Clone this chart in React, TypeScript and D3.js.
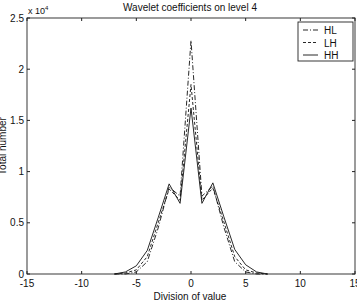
import React from 'react';
import * as d3 from 'd3';

const xs = [-7, -6, -5, -4, -3, -2, -1, 0, 1, 2, 3, 4, 5, 6, 7];
const hl = [0, 0, 0.02, 0.12, 0.45, 0.85, 0.76, 2.28, 0.76, 0.86, 0.46, 0.12, 0.02, 0, 0];
const lh = [0, 0.01, 0.04, 0.17, 0.5, 0.83, 0.72, 1.85, 0.72, 0.84, 0.51, 0.17, 0.04, 0.01, 0];
const hh = [0, 0.02, 0.08, 0.23, 0.55, 0.88, 0.69, 1.62, 0.69, 0.89, 0.56, 0.24, 0.09, 0.02, 0];
const xTicks = [-15, -10, -5, 0, 5, 10, 15];
const yTicks = [0, 0.5, 1, 1.5, 2, 2.5];

const series = [
  { name: 'HL', values: hl, dash: '5,2,1,2' },
  { name: 'LH', values: lh, dash: '3,2' },
  { name: 'HH', values: hh, dash: '' },
];

const W = 357;
const H = 304;
const m = { left: 27, right: 355, top: 18, bottom: 274 };

export default function App() {
  const x = d3.scaleLinear().domain([-15, 15]).range([m.left, m.right]);
  const y = d3.scaleLinear().domain([0, 2.5]).range([m.bottom, m.top]);
  const line = d3.line<number>().x((_, i) => x(xs[i])).y(d => y(d));
  const font = 'Liberation Sans, Arial, sans-serif';

  return (
    <svg width={W} height={H} style={{ position: 'absolute', left: 0, top: 0, background: '#fff' }}
      fontFamily={font}>
      <rect x={0} y={0} width={W} height={H} fill="#fff" />
      {series.map(s => (
        <path key={s.name} d={line(s.values) || ''} fill="none" stroke="#111"
          strokeWidth={0.9} strokeDasharray={s.dash || undefined} />
      ))}
      <rect x={m.left} y={m.top} width={m.right - m.left} height={m.bottom - m.top}
        fill="none" stroke="#222" strokeWidth={0.9} />
      {xTicks.map(t => (
        <g key={'x' + t}>
          <line x1={x(t)} x2={x(t)} y1={m.bottom} y2={m.bottom - 3} stroke="#222" />
          <line x1={x(t)} x2={x(t)} y1={m.top} y2={m.top + 3} stroke="#222" />
          <text x={x(t)} y={m.bottom + 13} fontSize={10} textAnchor="middle" fill="#111">{t}</text>
        </g>
      ))}
      {yTicks.map(t => (
        <g key={'y' + t}>
          <line x1={m.left} x2={m.left + 3} y1={y(t)} y2={y(t)} stroke="#222" />
          <line x1={m.right} x2={m.right - 3} y1={y(t)} y2={y(t)} stroke="#222" />
          <text x={m.left - 3} y={y(t) + 3.5} fontSize={10} textAnchor="end" fill="#111">{t}</text>
        </g>
      ))}
      <text x={28} y={14} fontSize={9} fill="#111">x 10<tspan dy={-4} fontSize={6}>4</tspan></text>
      <text x={190} y={11} fontSize={10} textAnchor="middle" fill="#111">Wavelet coefficients on level 4</text>
      <text x={190} y={300} fontSize={10} textAnchor="middle" fill="#111">Division of value</text>
      <text transform="translate(6,146) rotate(-90)" fontSize={10} textAnchor="middle" fill="#111">Total number</text>
      <rect x={298} y={22} width={55} height={39} fill="#fff" stroke="#222" strokeWidth={0.9} />
      {series.map((s, i) => (
        <g key={'lg' + s.name}>
          <line x1={303} x2={318} y1={30 + i * 12.5} y2={30 + i * 12.5} stroke="#111"
            strokeWidth={0.9} strokeDasharray={s.dash || undefined} />
          <text x={324} y={34 + i * 12.5} fontSize={10} fill="#111">{s.name}</text>
        </g>
      ))}
    </svg>
  );
}
